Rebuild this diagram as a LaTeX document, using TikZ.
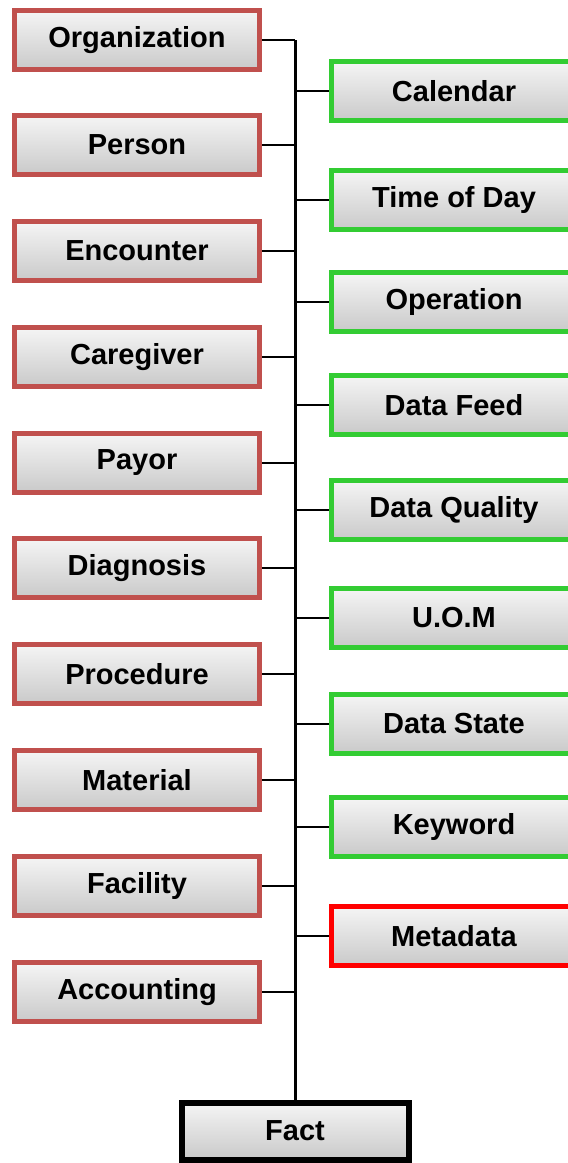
\documentclass[tikz,border=0pt]{standalone}
\usepackage{fontspec}
\setmainfont{Liberation Sans}
\usepackage{xcolor}
\usetikzlibrary{positioning}
\usetikzlibrary{calc}

\definecolor{dimred}{HTML}{C0504D}
\definecolor{dimgreen}{HTML}{33CC33}
\definecolor{brightred}{HTML}{FF0000}

\begin{document}
\begin{tikzpicture}[
  x=1pt, y=-1pt,
  box/.style={rectangle, line width=5pt, minimum width=245pt, minimum height=59pt,
    top color=black!4, bottom color=black!21, inner sep=0pt,
    font=\fontsize{29}{34}\selectfont\bfseries},
  dimbox/.style={box, draw=dimred},
  sharedbox/.style={box, draw=dimgreen},
  metabox/.style={box, draw=brightred},
  centerbox/.style={box, draw=black, line width=6pt, minimum width=227pt, minimum height=57pt},
  trunk/.style={line width=3pt},
  stub/.style={line width=1.8pt}
]
\useasboundingbox (0,0) rectangle (568,1163);

% Left column: dimensions
\node[dimbox] (org)  at (137,40)  {Organization};
\node[dimbox] (pers) at (137,145) {Person};
\node[dimbox] (enc)  at (137,251) {Encounter};
\node[dimbox] (care) at (137,357) {Caregiver};
\node[dimbox] (pay)  at (137,463) {Payor};
\node[dimbox] (diag) at (137,568) {Diagnosis};
\node[dimbox] (proc) at (137,674) {Procedure};
\node[dimbox] (mat)  at (137,780) {Material};
\node[dimbox] (fac)  at (137,886) {Facility};
\node[dimbox] (acc)  at (137,992) {Accounting};

% Right column: shared dimensions
\node[sharedbox] (cal)  at (454,91)  {Calendar};
\node[sharedbox] (tod)  at (454,200) {Time of Day};
\node[sharedbox] (oper) at (454,302) {Operation};
\node[sharedbox] (feed) at (454,405) {Data Feed};
\node[sharedbox] (qual) at (454,510) {Data Quality};
\node[sharedbox] (uom)  at (454,618) {U.O.M};
\node[sharedbox] (dst)  at (454,724) {Data State};
\node[sharedbox] (key)  at (454,827) {Keyword};
\node[metabox] (meta) at (454,936) {Metadata};

% Fact table at the bottom
\node[centerbox] (fact) at (295,1131) {Fact};

% Trunk
\coordinate (top) at (295,40);
\draw[trunk] (top) -- (fact.north);

% Stubs to the trunk
\foreach \n in {org,pers,enc,care,pay,diag,proc,mat,fac,acc}
  \draw[stub] (\n.east) -- (\n.east -| top);
\foreach \n in {cal,tod,oper,feed,qual,uom,dst,key,meta}
  \draw[stub] (\n.west) -- (\n.west -| top);

\end{tikzpicture}
\end{document}
